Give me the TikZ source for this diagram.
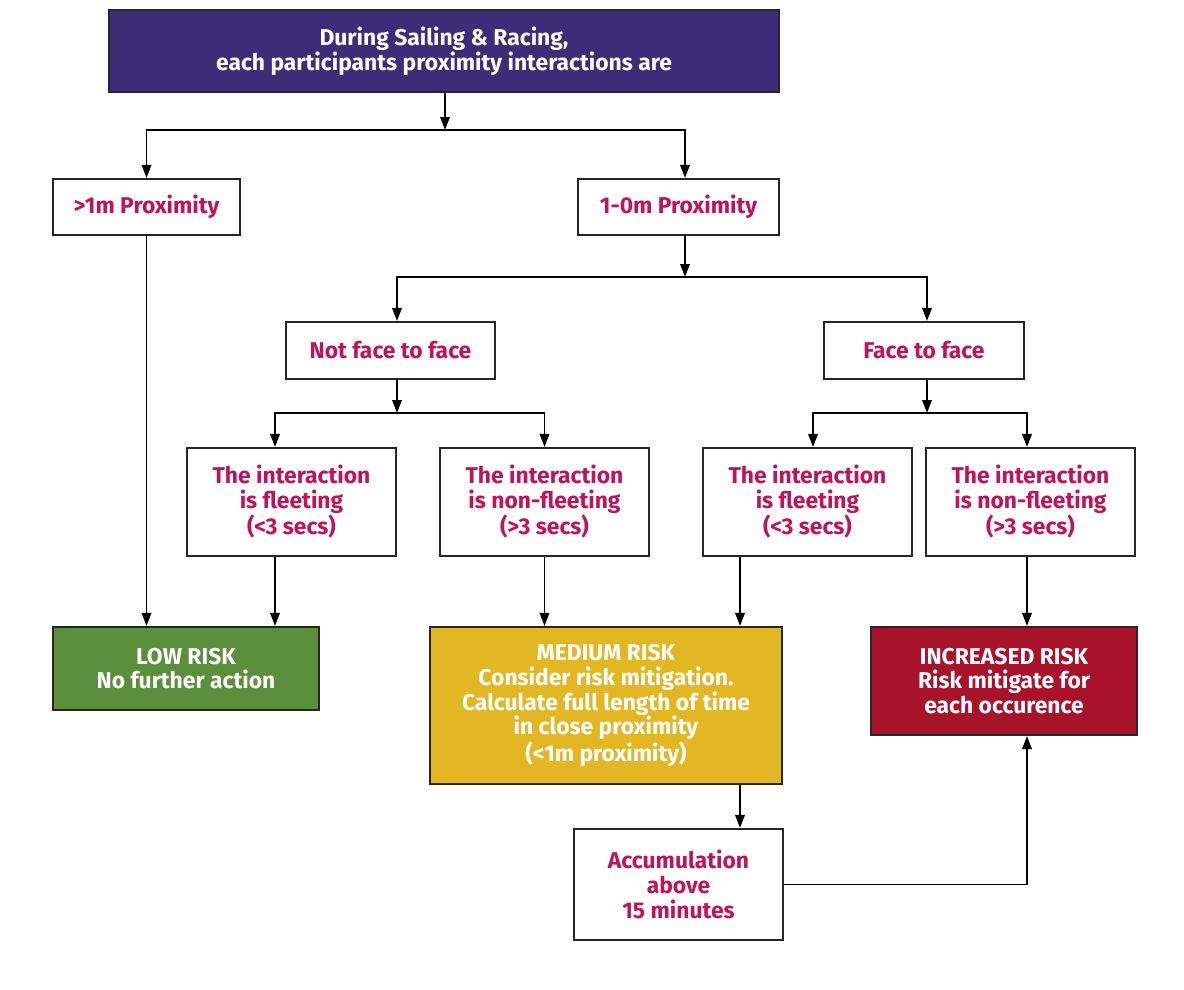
\documentclass[tikz,border=0pt]{standalone}
\usepackage{fontspec}
\setmainfont{Fira Sans}
\usetikzlibrary{arrows.meta}
\definecolor{sailpurple}{RGB}{59,45,120}
\definecolor{riskgreen}{RGB}{91,143,59}
\definecolor{riskyellow}{RGB}{226,183,35}
\definecolor{riskred}{RGB}{168,18,43}
\definecolor{boxtext}{RGB}{192,20,88}

\begin{document}
\begin{tikzpicture}[x=0.02cm,y=-0.02cm,
  box/.style={draw=black!85,line width=1.2pt,fill=white,text=boxtext,align=center,
    inner sep=0pt,font=\fontsize{13}{14}\selectfont\bfseries},
  riskbox/.style={box,text=white},
  arr/.style={line width=1.1pt,-{Triangle[length=2.6mm,width=1.9mm]}}]
\useasboundingbox (0,0) rectangle (1184,990);

% Question
\node[riskbox,fill=sailpurple,minimum width=13.4cm,minimum height=1.64cm] (start) at (444,51)
  {During Sailing \& Racing,\\each participants proximity interactions are};

% Distance
\node[box,minimum width=3.74cm,minimum height=1.12cm] (far) at (146.5,207) {>1m Proximity};
\node[box,minimum width=4.02cm,minimum height=1.12cm] (near) at (678.5,207) {1-0m Proximity};

% Orientation
\node[box,minimum width=4.18cm,minimum height=1.14cm] (notface) at (390.5,350.5) {Not face to face};
\node[box,minimum width=4.00cm,minimum height=1.14cm] (face) at (924,350.5) {Face to face};

% Duration
\node[box,minimum width=4.18cm,minimum height=2.16cm] (fleetA) at (291.5,502) {The interaction\\is fleeting\\(<3 secs)};
\node[box,minimum width=4.18cm,minimum height=2.16cm] (longA) at (544.5,502) {The interaction\\is non-fleeting\\(>3 secs)};
\node[box,minimum width=4.18cm,minimum height=2.16cm] (fleetB) at (807.5,502) {The interaction\\is fleeting\\(<3 secs)};
\node[box,minimum width=4.18cm,minimum height=2.16cm] (longB) at (1030.5,502) {The interaction\\is non-fleeting\\(>3 secs)};

% Risk levels
\node[riskbox,fill=riskgreen,minimum width=5.32cm,minimum height=1.66cm] (low) at (186,668.5)
  {LOW RISK\\No further action};
\node[riskbox,fill=riskyellow,minimum width=7.04cm,minimum height=3.14cm] (medium) at (606,705.5)
  {MEDIUM RISK\\Consider risk mitigation.\\Calculate full length of time\\in close proximity\\(<1m proximity)};
\node[riskbox,fill=riskred,minimum width=5.32cm,minimum height=2.16cm] (high) at (1004,681)
  {INCREASED RISK\\Risk mitigate for\\each occurence};
\node[box,minimum width=4.18cm,minimum height=2.22cm] (accum) at (678.5,884.5)
  {Accumulation\\above\\15 minutes};

% Splits
\coordinate (s1) at (445,130);
\coordinate (s2) at (685,277);
\coordinate (s3) at (397,413);
\coordinate (s4) at (927,413);
\draw[arr] (start.south -| s1) -- (s1);
\draw[arr] (s1) -| (far.north);
\draw[arr] (s1) -| ([xshift=0.13cm]near.north);
\draw[arr] ([xshift=0.13cm]near.south) -- (s2);
\draw[arr] (s2) -| ([xshift=0.13cm]notface.north);
\draw[arr] (s2) -| ([xshift=0.06cm]face.north);
\draw[arr] ([xshift=0.13cm]notface.south) -- (s3);
\draw[arr] (s3) -| ([xshift=-0.33cm]fleetA.north);
\draw[arr] (s3) -| (longA.north);
\draw[arr] ([xshift=0.06cm]face.south) -- (s4);
\draw[arr] (s4) -| ([xshift=0.11cm]fleetB.north);
\draw[arr] (s4) -| ([xshift=-0.07cm]longB.north);

% Into the risk levels
\draw[arr] (far.south) -- (far.south |- low.north);
\draw[arr] ([xshift=-0.33cm]fleetA.south) -- ([xshift=-0.33cm]fleetA.south |- low.north);
\draw[arr] (longA.south) -- (longA.south |- medium.north);
\draw[arr] ([xshift=-1.35cm]fleetB.south) -- ([xshift=-1.35cm]fleetB.south |- medium.north);
\draw[arr] ([xshift=-0.07cm]longB.south) -- ([xshift=-0.07cm]longB.south |- high.north);
\draw[arr] ([xshift=2.68cm]medium.south) -- ([xshift=2.68cm]medium.south |- accum.north);
\draw[arr] (accum.east) -| ([xshift=0.46cm]high.south);
\end{tikzpicture}
\end{document}
